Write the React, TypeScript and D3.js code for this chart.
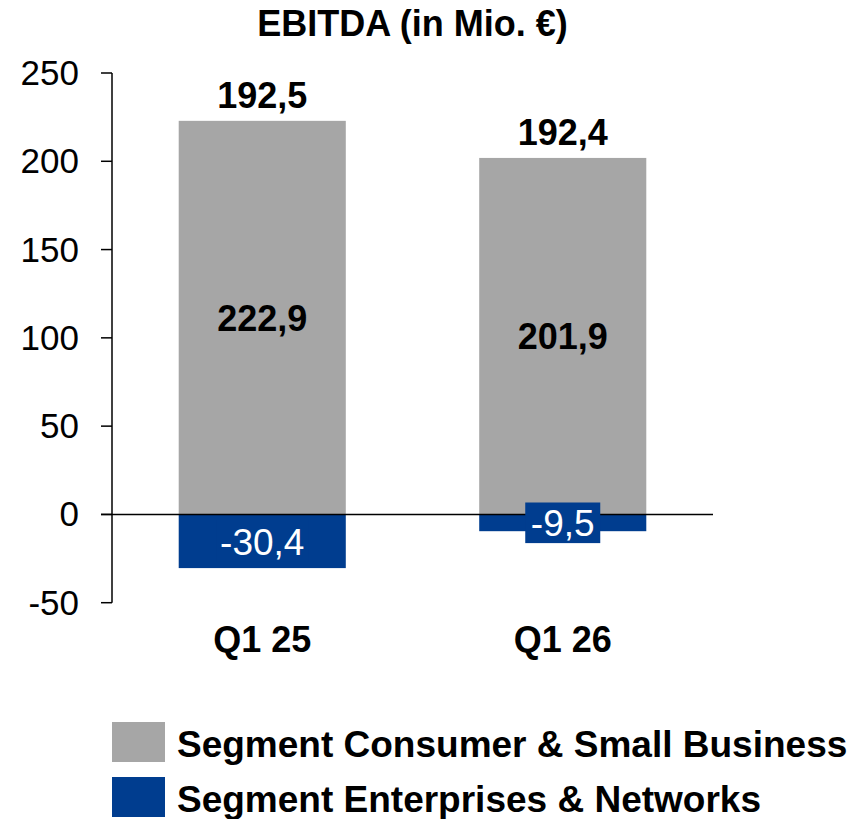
import React from "react";
import * as d3 from "d3";

const categories = ["Q1 25", "Q1 26"];
const consumerValues = [222.9, 201.9];
const enterpriseValues = [-30.4, -9.5];
const totalValues = [192.5, 192.4];
const yTicks = [-50, 0, 50, 100, 150, 200, 250];
const seriesNames = ["Segment Consumer & Small Business", "Segment Enterprises & Networks"];
const title = "EBITDA (in Mio. €)";

const GRAY = "#A6A6A6";
const BLUE = "#003D8F";
const FONT = "'Liberation Sans', Arial, Helvetica, sans-serif";

const locale = d3.formatLocale({ decimal: ",", thousands: ".", grouping: [3], currency: ["", "€"], minus: "-" });
const fmt = locale.format(".1f");

export default function App() {
  const W = 854;
  const H = 819;
  const x = d3.scaleBand<string>().domain(categories).range([112, 713]).paddingInner(0.444).paddingOuter(0.222);
  const y = d3.scaleLinear().domain([-50, 250]).range([602.7, 73]);
  const bw = x.bandwidth();

  return (
    <svg width={W} height={H} style={{ position: "absolute", left: 0, top: 0 }} fontFamily={FONT}>
      <rect x={0} y={0} width={W} height={H} fill="#fff" />
      <text x={(112 + 713) / 2} y={36} textAnchor="middle" fontWeight="bold" fontSize={36} fill="#000">
        {title}
      </text>

      {/* bars */}
      {categories.map((c, i) => {
        const x0 = x(c)!;
        return (
          <g key={c}>
            <rect x={x0} y={y(consumerValues[i])} width={bw} height={y(0) - y(consumerValues[i])} fill={GRAY} />
            <rect x={x0} y={y(0)} width={bw} height={y(enterpriseValues[i]) - y(0)} fill={BLUE} />
          </g>
        );
      })}

      {/* axis */}
      <line x1={112} x2={112} y1={y(250)} y2={y(-50)} stroke="#000" strokeWidth={1.5} />
      {yTicks.map((t) => (
        <g key={t}>
          <line x1={101} x2={112} y1={y(t)} y2={y(t)} stroke="#000" strokeWidth={1.5} />
          <text x={79} y={y(t) + 12} textAnchor="end" fontSize={35} fill="#000">
            {locale.format("d")(t)}
          </text>
        </g>
      ))}
      <line x1={101} x2={713} y1={y(0)} y2={y(0)} stroke="#000" strokeWidth={1.5} />

      {/* labels */}
      {categories.map((c, i) => {
        const cx = x(c)! + bw / 2;
        const midC = (y(consumerValues[i]) + y(0)) / 2;
        const midE = (y(enterpriseValues[i]) + y(0)) / 2;
        const eText = fmt(enterpriseValues[i]);
        const boxW = eText.length * 17 + 7;
        return (
          <g key={c}>
            <text x={cx} y={y(consumerValues[i]) - 13} textAnchor="middle" fontWeight="bold" fontSize={36} fill="#000">
              {fmt(totalValues[i])}
            </text>
            <text x={cx} y={midC + 13} textAnchor="middle" fontWeight="bold" fontSize={36} fill="#000">
              {fmt(consumerValues[i])}
            </text>
            <rect x={cx - boxW / 2} y={midE - 20.3} width={boxW} height={40.6} fill={BLUE} />
            <text x={cx} y={midE + 13.5} textAnchor="middle" fontSize={37} fill="#fff">
              {eText}
            </text>
            <text x={cx} y={652} textAnchor="middle" fontWeight="bold" fontSize={36} fill="#000">
              {c}
            </text>
          </g>
        );
      })}

      {/* legend */}
      {seriesNames.map((n, i) => (
        <g key={n}>
          <rect x={112} y={722 + i * 55} width={53} height={40} fill={i === 0 ? GRAY : BLUE} />
          <text x={177} y={757 + i * 55} fontWeight="bold" fontSize={37} fill="#000">
            {n}
          </text>
        </g>
      ))}
    </svg>
  );
}
